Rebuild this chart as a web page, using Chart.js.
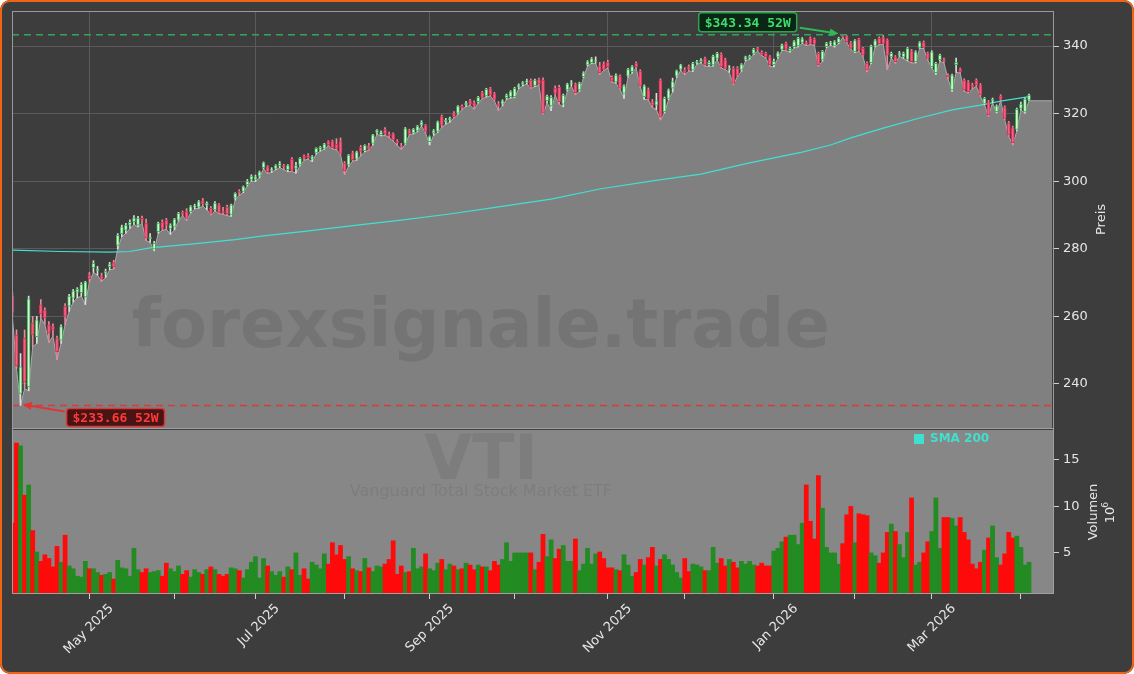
<!DOCTYPE html>
<html>
<head>
<meta charset="utf-8">
<script src="https://cdn.jsdelivr.net/npm/chart.js@4.4.1/dist/chart.umd.min.js"></script>
<style>
  html, body { margin: 0; padding: 0; background: #ffffff; }
  #wrap { position: relative; width: 1134px; height: 674px; background: #3d3d3d; border-radius: 10px; overflow: hidden; }
  #wrap canvas { position: absolute; left: 0; }
  #frame { position: absolute; left: 0; top: 0; width: 1134px; height: 674px; box-sizing: border-box; border: 2px solid #f06414; border-radius: 10px; pointer-events: none; }
</style>
</head>
<body>
<div id="wrap">
  <canvas id="priceChart" width="1134" height="428" style="top:0px"></canvas>
  <canvas id="volumeChart" width="1134" height="246" style="top:428px"></canvas>
  <div id="frame"></div>
</div>
<script>
// daily candles, index 0 = 3 Apr 2025 (trading days only)
const open = [
  266.0, 254.5, 237.2, 253.5, 239.2, 258.1, 254.0, 263.4, 261.9, 257.5,
  257.0, 253.6, 253.0, 263.0, 263.0, 265.4, 267.2, 267.0, 265.8, 272.2,
  274.4, 273.5, 272.0, 272.8, 274.7, 275.9, 281.0, 284.5, 285.5, 287.0,
  288.0, 287.0, 289.0, 287.6, 283.0, 280.0, 285.1, 287.8, 288.5, 286.0,
  286.5, 288.5, 290.8, 291.0, 291.0, 292.4, 292.3, 294.2, 292.8, 292.0,
  291.5, 293.0, 291.0, 292.3, 290.2, 295.0, 297.0, 297.0, 299.0, 300.5,
  300.5, 301.5, 304.0, 304.3, 303.2, 303.8, 304.6, 304.6, 303.4, 306.5,
  303.8, 304.8, 307.5, 307.6, 306.5, 308.4, 309.4, 309.7, 311.7, 311.9,
  310.9, 311.9, 305.3, 304.8, 308.4, 306.5, 310.0, 309.0, 310.5, 311.2,
  314.4, 313.8, 315.3, 313.9, 314.0, 311.9, 310.5, 311.2, 315.0, 314.3,
  314.9, 316.6, 316.6, 311.7, 314.2, 314.7, 319.1, 317.5, 318.1, 320.0,
  320.1, 322.2, 322.5, 323.8, 323.2, 323.5, 326.2, 325.2, 327.4, 325.9,
  322.9, 322.8, 324.7, 325.0, 325.0, 327.8, 328.6, 329.2, 329.9, 328.3,
  330.1, 329.9, 323.8, 322.3, 327.5, 327.8, 322.8, 327.0, 328.8, 328.8,
  327.0, 330.9, 334.4, 335.1, 335.5, 334.1, 334.7, 335.2, 330.7, 329.4,
  331.1, 326.0, 331.1, 332.4, 334.9, 332.6, 325.0, 327.0, 323.5, 322.5,
  329.9, 320.6, 324.5, 327.5, 331.1, 333.1, 332.9, 333.9, 332.9, 335.0,
  335.4, 336.3, 334.5, 334.4, 336.3, 337.6, 335.9, 332.9, 333.4, 333.4,
  332.9, 336.0, 336.5, 337.8, 339.3, 338.2, 337.8, 336.8, 334.5, 336.8,
  339.0, 340.8, 338.6, 339.8, 340.0, 341.1, 341.0, 342.3, 342.0, 337.8,
  335.9, 339.8, 340.6, 340.0, 341.0, 343.1, 342.8, 341.0, 338.3, 342.0,
  339.3, 334.9, 335.1, 340.0, 342.3, 342.5, 341.8, 336.8, 336.8, 337.3,
  336.8, 336.0, 338.6, 335.4, 339.6, 341.1, 337.8, 333.9, 332.1, 335.9,
  336.0, 331.4, 327.0, 334.5, 333.1, 329.9, 329.4, 328.5, 329.9, 328.5,
  323.0, 323.5, 323.8, 320.6, 325.2, 321.9, 317.3, 315.9, 315.3, 321.5,
  320.5, 324.0
];
const high = [
  267.0, 256.0, 249.0, 256.0, 266.0, 260.0, 260.0, 265.0, 262.5, 258.5,
  257.8, 254.2, 257.5, 263.8, 266.5, 268.0, 268.5, 270.0, 270.4, 273.0,
  276.5, 274.8, 272.8, 274.0, 276.0, 276.6, 284.5, 287.0, 287.5, 288.6,
  289.8, 289.6, 289.7, 288.8, 284.5, 282.2, 287.9, 288.6, 289.0, 287.4,
  289.0, 290.8, 291.2, 291.9, 292.8, 293.2, 294.3, 294.9, 293.9, 292.6,
  294.0, 293.4, 292.3, 292.9, 293.2, 296.6, 297.5, 298.6, 300.5, 301.9,
  301.8, 303.0, 305.7, 304.6, 304.0, 304.9, 305.8, 305.0, 304.9, 307.0,
  305.6, 307.0, 307.8, 308.2, 307.6, 309.9, 310.3, 311.2, 312.0, 312.2,
  312.6, 312.8, 305.8, 307.9, 308.9, 308.9, 310.6, 310.8, 311.2, 313.9,
  315.3, 314.9, 315.9, 314.5, 314.3, 312.3, 311.2, 315.9, 315.4, 315.6,
  316.5, 317.9, 316.8, 313.4, 315.3, 317.8, 319.6, 318.6, 319.0, 320.6,
  322.4, 322.6, 323.6, 324.2, 323.8, 325.1, 326.6, 327.5, 327.8, 326.3,
  323.6, 324.1, 325.8, 326.8, 327.8, 328.8, 329.5, 330.2, 330.3, 330.2,
  330.5, 330.6, 325.5, 325.3, 328.2, 328.4, 325.8, 329.0, 329.8, 329.1,
  329.3, 332.4, 335.7, 336.6, 336.8, 335.2, 335.3, 335.8, 331.2, 331.8,
  331.5, 328.5, 333.4, 334.2, 335.3, 333.0, 328.5, 327.6, 324.2, 326.0,
  330.3, 324.9, 327.3, 330.5, 332.9, 334.6, 333.6, 334.4, 335.2, 335.8,
  336.3, 336.7, 335.6, 337.3, 338.1, 338.0, 336.4, 334.2, 333.9, 333.9,
  334.8, 337.0, 337.3, 339.3, 339.6, 338.6, 338.2, 337.2, 336.1, 338.3,
  340.6, 341.2, 339.7, 341.6, 342.6, 342.5, 341.5, 342.7, 342.4, 338.2,
  338.7, 341.1, 341.4, 341.6, 342.6, 343.34, 343.1, 341.4, 341.9, 342.3,
  339.6, 335.3, 340.3, 341.9, 342.7, 343.2, 342.1, 338.2, 337.2, 338.4,
  338.2, 339.6, 339.0, 338.6, 341.3, 341.5, 338.2, 338.6, 335.2, 337.6,
  336.4, 331.8, 331.7, 336.4, 333.5, 330.3, 329.8, 329.0, 330.3, 328.9,
  324.8, 323.9, 324.6, 322.6, 325.6, 322.3, 317.7, 316.3, 321.6, 323.4,
  324.6, 325.8
];
const low = [
  259.8, 244.5, 233.66, 238.6, 238.0, 251.0, 252.0, 259.5, 257.6, 252.2,
  254.2, 247.2, 252.0, 257.5, 261.5, 264.2, 265.5, 266.0, 263.5, 270.2,
  273.0, 272.2, 270.3, 271.5, 273.8, 274.0, 280.0, 283.6, 284.6, 286.0,
  287.2, 286.5, 287.5, 282.4, 281.9, 279.4, 284.6, 285.4, 285.8, 284.3,
  285.6, 288.2, 289.8, 288.4, 290.6, 291.8, 292.0, 292.6, 291.6, 290.0,
  291.2, 290.4, 290.2, 289.8, 289.6, 294.4, 295.9, 296.6, 298.6, 300.0,
  299.9, 301.0, 303.7, 302.3, 302.6, 303.4, 304.0, 303.4, 302.8, 302.9,
  302.4, 304.5, 306.2, 306.5, 305.8, 308.0, 308.9, 309.4, 310.5, 309.6,
  309.3, 307.9, 302.0, 304.4, 305.9, 306.2, 307.5, 308.7, 309.2, 310.7,
  313.9, 313.4, 313.6, 312.9, 311.9, 310.6, 309.4, 310.9, 313.8, 314.0,
  314.6, 316.3, 314.3, 310.7, 313.6, 314.4, 315.9, 316.9, 317.5, 318.7,
  319.8, 321.2, 322.1, 322.4, 321.3, 323.1, 324.4, 324.9, 325.2, 323.8,
  320.9, 322.3, 324.2, 324.6, 324.7, 327.4, 328.2, 328.8, 327.5, 328.0,
  328.4, 319.8, 323.2, 320.9, 325.4, 322.8, 322.0, 326.7, 328.2, 325.6,
  326.6, 330.6, 334.1, 334.8, 334.9, 331.6, 332.8, 333.5, 329.3, 329.0,
  327.2, 324.5, 330.8, 332.0, 333.5, 327.9, 324.2, 324.1, 321.8, 321.2,
  318.1, 320.2, 324.1, 326.4, 330.7, 332.8, 331.5, 332.6, 332.5, 334.6,
  335.0, 334.0, 334.0, 334.0, 335.9, 333.5, 333.0, 332.2, 328.5, 330.9,
  332.5, 335.6, 336.1, 337.5, 338.5, 337.1, 336.5, 334.0, 333.8, 336.4,
  338.7, 338.6, 338.2, 339.4, 339.7, 340.8, 340.1, 340.4, 340.2, 334.0,
  335.5, 339.5, 340.2, 339.7, 340.7, 342.5, 341.0, 339.0, 338.0, 338.4,
  336.9, 332.3, 334.8, 339.7, 340.3, 340.5, 333.0, 336.4, 334.9, 336.9,
  336.3, 335.6, 335.0, 335.0, 339.3, 339.2, 335.9, 333.5, 331.6, 335.5,
  335.0, 330.3, 326.6, 332.2, 332.0, 326.6, 326.1, 327.3, 328.1, 325.1,
  322.6, 319.2, 323.2, 320.2, 323.8, 318.2, 313.3, 310.7, 314.9, 321.0,
  320.1, 323.8
];
const close = [
  261.3, 245.4, 245.1, 240.7, 265.2, 254.5, 259.0, 260.7, 259.5, 255.1,
  256.0, 249.6, 257.0, 260.0, 266.0, 267.6, 268.0, 269.5, 270.2, 271.1,
  275.7, 274.0, 271.0, 273.3, 275.5, 274.7, 284.0, 286.5, 287.0, 287.8,
  289.2, 289.1, 288.5, 283.2, 283.4, 281.6, 287.6, 286.0, 287.0, 287.0,
  288.8, 290.5, 290.3, 289.0, 292.5, 292.6, 294.0, 293.3, 293.5, 290.5,
  293.5, 290.8, 290.6, 290.3, 293.0, 296.4, 296.5, 298.4, 300.0, 301.5,
  301.3, 302.8, 305.5, 302.8, 303.5, 304.6, 305.2, 304.2, 304.6, 303.2,
  304.6, 306.8, 306.8, 306.9, 307.3, 309.7, 310.0, 311.0, 310.8, 309.9,
  309.7, 308.2, 303.1, 307.7, 306.4, 308.7, 308.8, 310.6, 309.5, 313.7,
  315.1, 314.6, 314.0, 313.4, 312.2, 311.3, 310.2, 315.6, 314.1, 315.4,
  316.3, 317.5, 314.7, 313.2, 315.0, 317.6, 316.6, 318.1, 318.6, 319.1,
  322.2, 321.6, 323.2, 322.8, 322.2, 324.8, 324.8, 327.2, 325.6, 324.2,
  322.3, 323.8, 325.5, 326.5, 327.5, 328.5, 329.2, 329.7, 327.8, 329.9,
  328.8, 320.1, 325.2, 324.8, 326.0, 323.5, 325.5, 328.8, 329.2, 326.2,
  329.0, 332.1, 335.4, 336.3, 335.7, 332.1, 333.1, 333.9, 329.7, 331.4,
  327.5, 328.2, 333.1, 333.9, 333.9, 328.2, 328.2, 324.5, 322.5, 323.8,
  319.0, 324.5, 327.0, 329.5, 332.7, 334.4, 332.2, 333.1, 334.9, 335.4,
  335.9, 334.4, 335.2, 337.0, 337.8, 333.9, 333.4, 333.4, 328.9, 331.4,
  334.5, 336.8, 337.0, 339.0, 338.9, 337.5, 336.8, 334.4, 335.5, 338.0,
  340.3, 339.0, 339.3, 341.3, 342.3, 342.1, 340.6, 340.8, 340.6, 334.4,
  338.4, 340.8, 341.0, 341.3, 342.3, 342.8, 341.3, 339.3, 341.6, 338.8,
  337.3, 332.9, 340.0, 341.6, 340.6, 340.8, 337.3, 337.8, 335.4, 338.0,
  337.8, 339.3, 335.4, 338.3, 341.0, 339.6, 336.3, 338.3, 334.9, 337.3,
  335.5, 330.9, 331.4, 335.2, 332.4, 327.0, 326.5, 327.8, 328.5, 325.5,
  324.5, 319.6, 324.2, 322.3, 324.2, 318.6, 313.7, 311.4, 321.3, 322.8,
  324.3, 325.5
];
// volume in millions
const volume = [
  8.2, 16.8, 16.5, 11.2, 12.3, 7.4, 5.1, 4.1, 4.8, 4.4,
  3.5, 5.7, 4.0, 6.9, 3.6, 3.3, 2.5, 2.4, 4.1, 3.3,
  3.3, 2.9, 2.6, 2.7, 2.9, 2.2, 4.2, 3.4, 3.3, 2.5,
  5.5, 3.2, 2.9, 3.3, 2.9, 3.0, 3.1, 2.5, 3.9, 3.3,
  3.0, 3.6, 2.7, 3.1, 2.4, 3.2, 2.9, 2.7, 3.2, 3.5,
  3.2, 2.7, 2.5, 2.7, 3.4, 3.3, 3.1, 2.3, 3.2, 4.0,
  4.6, 2.3, 4.4, 3.6, 3.0, 2.6, 3.0, 2.4, 3.5, 3.2,
  5.0, 2.6, 3.3, 2.2, 4.0, 3.7, 3.3, 4.9, 3.8, 6.1,
  4.8, 5.8, 4.3, 4.6, 3.3, 3.1, 3.0, 4.4, 3.4, 3.0,
  3.6, 3.5, 3.8, 4.3, 6.3, 2.7, 3.6, 2.9, 3.0, 5.5,
  3.3, 3.5, 4.9, 3.3, 3.1, 3.9, 4.3, 3.2, 3.8, 3.6,
  3.2, 3.3, 3.9, 3.7, 3.2, 3.7, 3.5, 3.5, 3.1, 4.1,
  3.7, 4.3, 6.1, 4.1, 5.0, 5.0, 5.0, 5.0, 5.0, 3.2,
  4.0, 7.0, 4.6, 6.4, 4.4, 5.4, 5.8, 4.1, 4.1, 6.5,
  3.1, 3.8, 5.5, 3.8, 4.9, 5.1, 4.4, 3.4, 3.4, 3.2,
  3.1, 4.8, 3.7, 2.5, 2.9, 4.3, 3.7, 4.5, 5.6, 3.6,
  4.3, 4.8, 4.3, 3.7, 2.9, 2.3, 4.4, 3.0, 3.8, 3.7,
  3.5, 3.1, 3.1, 5.6, 3.9, 4.4, 3.6, 4.3, 4.0, 3.4,
  4.1, 3.8, 4.1, 3.7, 3.6, 3.9, 3.6, 3.6, 5.2, 5.5,
  6.2, 6.7, 6.9, 6.9, 5.9, 8.2, 12.3, 8.4, 6.5, 13.3,
  9.8, 5.6, 5.0, 5.0, 3.8, 6.0, 9.1, 10.0, 6.1, 9.2,
  9.1, 9.0, 5.0, 4.7, 3.9, 5.0, 7.2, 8.1, 7.3, 5.9,
  4.5, 7.2, 10.9, 3.7, 4.0, 5.0, 6.2, 7.3, 10.9, 5.5,
  8.8, 8.8, 8.7, 7.9, 8.8, 7.2, 6.4, 3.8, 3.3, 4.0,
  5.3, 6.6, 7.9, 4.5, 3.7, 4.9, 7.2, 6.6, 6.8, 5.6,
  3.7, 4.0
];
// 200 day moving average, read at a few points
const smaIdx = [0, 12, 24, 29, 34, 46, 55, 62, 71, 83, 96, 108, 120, 133, 145, 158, 170, 182, 195, 202, 207, 215, 224, 232, 239, 244, 251];
const smaVal = [279.6, 279.2, 279.0, 279.2, 280.3, 281.6, 282.7, 283.8, 285.0, 286.7, 288.5, 290.3, 292.4, 294.7, 297.7, 300.1, 302.1, 305.4, 308.6, 310.7, 312.8, 315.7, 318.7, 321.1, 322.5, 323.7, 325.0];
// first trading day of each month
const monthTickIdx = [19, 40, 60, 82, 103, 124, 147, 166, 188, 208, 227, 249];
const monthTickLabels = ["May 2025", "", "Jul 2025", "", "Sep 2025", "", "Nov 2025", "", "Jan 2026", "", "Mar 2026", ""];
const high52 = 343.34;
const low52 = 233.66;

const X_MIN = -0.11, X_MAX = 257.17, FILL_END = 256.7;
const TEXT = "#e6e6e6";
const FONT = "'DejaVu Sans', sans-serif";
Chart.defaults.font.family = FONT;
Chart.defaults.font.size = 13;
Chart.defaults.color = TEXT;

const n = close.length;
const up = close.map((c, i) => c >= open[i]);
const hiIdx = high.indexOf(Math.max(...high));
const loIdx = low.indexOf(Math.min(...low));

const lowLine = low.map((v, i) => ({ x: i, y: v }));
lowLine.push({ x: FILL_END, y: low[n - 1] });

function arrow(ctx, x1, y1, x2, y2, color) {
  const a = Math.atan2(y2 - y1, x2 - x1);
  ctx.save();
  ctx.strokeStyle = color;
  ctx.fillStyle = color;
  ctx.lineWidth = 2;
  ctx.beginPath();
  ctx.moveTo(x1, y1);
  ctx.lineTo(x2 - 6 * Math.cos(a), y2 - 6 * Math.sin(a));
  ctx.stroke();
  ctx.beginPath();
  ctx.moveTo(x2, y2);
  ctx.lineTo(x2 - 9 * Math.cos(a) + 4 * Math.sin(a), y2 - 9 * Math.sin(a) - 4 * Math.cos(a));
  ctx.lineTo(x2 - 9 * Math.cos(a) - 4 * Math.sin(a), y2 - 9 * Math.sin(a) + 4 * Math.cos(a));
  ctx.closePath();
  ctx.fill();
  ctx.restore();
}

function tag(ctx, text, x, y, w, h, bg, edge, fg) {
  ctx.save();
  ctx.fillStyle = bg;
  ctx.strokeStyle = edge;
  ctx.lineWidth = 1.5;
  ctx.beginPath();
  ctx.roundRect(x, y, w, h, 3);
  ctx.fill();
  ctx.stroke();
  ctx.fillStyle = fg;
  ctx.font = "bold 13px 'DejaVu Sans Mono', monospace";
  ctx.textAlign = "center";
  ctx.textBaseline = "middle";
  ctx.fillText(text, x + w / 2, y + h / 2 + 1);
  ctx.restore();
}

// y axes: no extra room for half labels at the ends
function fixY(s) {
  s.width = 80;
  s.paddingTop = 0;
  s.paddingBottom = 0;
}

const pricePlugin = {
  id: "priceDeco",
  afterDatasetDraw(chart, args) {
    if (args.index !== 0) return;
    const { ctx, chartArea: a } = chart;
    ctx.save();
    ctx.font = "bold 67px " + FONT;
    ctx.fillStyle = "rgba(40,40,40,0.13)";
    ctx.textAlign = "center";
    ctx.textBaseline = "middle";
    ctx.fillText("forexsignale.trade", a.left + a.width * 0.45, a.top + a.height * 0.763);
    ctx.restore();
  },
  afterDatasetsDraw(chart) {
    const { ctx, chartArea: a, scales } = chart;
    const yHi = scales.y.getPixelForValue(high52);
    const yLo = scales.y.getPixelForValue(low52);
    ctx.save();
    ctx.lineWidth = 1.5;
    ctx.setLineDash([7, 5]);
    ctx.strokeStyle = "#33a55a";
    ctx.beginPath(); ctx.moveTo(a.left, yHi); ctx.lineTo(a.right, yHi); ctx.stroke();
    ctx.strokeStyle = "#d23c3c";
    ctx.beginPath(); ctx.moveTo(a.left, yLo); ctx.lineTo(a.right, yLo); ctx.stroke();
    ctx.restore();
  },
  afterDraw(chart) {
    const { ctx, chartArea: a, scales } = chart;
    ctx.save();
    ctx.strokeStyle = "#9a9a9a";
    ctx.lineWidth = 1;
    ctx.strokeRect(a.left + 0.5, a.top + 0.5, a.width - 1, a.height);
    ctx.restore();

    const hx = scales.x.getPixelForValue(hiIdx), hy = scales.y.getPixelForValue(high52);
    tag(ctx, "$" + high52.toFixed(2) + " 52W", hx - 144, hy - 22, 98, 19, "#0c2616", "#2fa352", "#3ddc6e");
    arrow(ctx, hx - 43, hy - 7, hx - 4, hy - 1, "#2fb85a");

    const lx = scales.x.getPixelForValue(loIdx), ly = scales.y.getPixelForValue(low52);
    tag(ctx, "$" + low52.toFixed(2) + " 52W", lx + 46, ly + 3, 98, 18, "#4a1414", "#d83a3a", "#ff3a3a");
    arrow(ctx, lx + 44, ly + 6, lx + 2, ly - 1, "#e03535");

    ctx.save();
    ctx.fillStyle = TEXT;
    ctx.font = "13px " + FONT;
    ctx.textAlign = "center";
    ctx.textBaseline = "middle";
    ctx.translate(1102, (a.top + a.bottom) / 2);
    ctx.rotate(-Math.PI / 2);
    ctx.fillText("Preis", 0, 0);
    ctx.restore();
  }
};

const volumePlugin = {
  id: "volumeDeco",
  beforeDatasetsDraw(chart) {
    const { ctx, chartArea: a } = chart;
    ctx.save();
    ctx.fillStyle = "#878787";
    ctx.fillRect(a.left, a.top, a.width, a.height);
    ctx.fillStyle = "rgba(60,60,60,0.12)";
    ctx.textAlign = "center";
    ctx.textBaseline = "middle";
    ctx.font = "bold 62px " + FONT;
    ctx.fillText("VTI", a.left + a.width * 0.45, a.top + a.height * 0.2);
    ctx.font = "16px " + FONT;
    ctx.fillText("Vanguard Total Stock Market ETF", a.left + a.width * 0.45, a.top + a.height * 0.378);
    ctx.restore();
  },
  afterDraw(chart) {
    const { ctx, chartArea: a } = chart;
    ctx.save();
    ctx.strokeStyle = "#a0a0a0";
    ctx.lineWidth = 1;
    ctx.strokeRect(a.left + 0.5, a.top - 1.5, a.width - 1, a.height + 1);
    ctx.fillStyle = "#40e0d0";
    ctx.fillRect(a.right - 140, a.top + 4, 10, 10);
    ctx.font = "bold 12px " + FONT;
    ctx.textBaseline = "middle";
    ctx.fillText("SMA 200", a.right - 124, a.top + 9);

    ctx.fillStyle = TEXT;
    ctx.font = "13px " + FONT;
    ctx.textAlign = "center";
    ctx.translate(1094, (a.top + a.bottom) / 2);
    ctx.rotate(-Math.PI / 2);
    ctx.fillText("Volumen", 0, 0);
    ctx.fillText("10", -3, 17);
    ctx.font = "9px " + FONT;
    ctx.fillText("6", 7, 12);
    ctx.restore();
  }
};

const xCommon = { type: "linear", min: X_MIN, max: X_MAX, offset: false, border: { display: false } };

new Chart(document.getElementById("priceChart"), {
  type: "bar",
  data: {
    datasets: [
      {
        type: "line",
        data: lowLine,
        fill: "start",
        backgroundColor: "#808080",
        borderColor: "#ababab",
        borderWidth: 1,
        pointRadius: 0,
        tension: 0,
        order: 4,
      },
      {
        type: "line",
        data: smaIdx.map((v, i) => ({ x: v, y: smaVal[i] })),
        borderColor: "#40e0d0",
        borderWidth: 1.2,
        pointRadius: 0,
        fill: false,
        order: 3,
      },
      {
        data: close.map((c, i) => ({ x: i, y: [low[i], high[i]] })),
        backgroundColor: up.map((u) => (u ? "#dcdcdc" : "#e58a9c")),
        barThickness: 1,
        grouped: false,
        order: 2,
      },
      {
        data: close.map((c, i) => ({ x: i, y: [open[i], c] })),
        backgroundColor: up.map((u) => (u ? "#d9f4d9" : "#f0627f")),
        borderColor: up.map((u) => (u ? "#35b84f" : "#d8325a")),
        borderWidth: 1,
        borderSkipped: false,
        barThickness: 3,
        minBarLength: 1,
        grouped: false,
        order: 1,
      },
    ],
  },
  options: {
    responsive: false,
    animation: false,
    layout: { padding: { left: 12, top: 11, right: 0, bottom: 0 } },
    plugins: { legend: { display: false }, tooltip: { enabled: false } },
    scales: {
      x: {
        ...xCommon,
        afterBuildTicks: (s) => {
          s.ticks = monthTickIdx.filter((v, i) => monthTickLabels[i]).map((v) => ({ value: v }));
        },
        ticks: { display: false },
        grid: { color: "#5a5a5a", drawTicks: false, offset: false },
        afterFit: (s) => { s.height = 0; },
      },
      y: {
        position: "right",
        min: 226.98,
        max: 350.36,
        border: { display: false },
        ticks: { stepSize: 20, includeBounds: false, padding: 4 },
        grid: { color: "#5a5a5a", tickColor: "#d0d0d0", tickLength: 5 },
        afterFit: fixY,
      },
    },
  },
  plugins: [pricePlugin],
});

new Chart(document.getElementById("volumeChart"), {
  type: "bar",
  data: {
    datasets: [
      {
        data: volume.map((v, i) => ({ x: i, y: v })),
        backgroundColor: up.map((u) => (u ? "#228b22" : "#ff0a0a")),
        barThickness: 4.1,
      },
    ],
  },
  options: {
    responsive: false,
    animation: false,
    layout: { padding: { left: 12, top: 2, right: 0, bottom: 0 } },
    plugins: { legend: { display: false }, tooltip: { enabled: false } },
    scales: {
      x: {
        ...xCommon,
        afterBuildTicks: (s) => {
          s.ticks = monthTickIdx.map((v) => ({ value: v }));
        },
        ticks: {
          autoSkip: false,
          minRotation: 45,
          maxRotation: 45,
          labelOffset: 22,
          padding: 2,
          callback: (v, i) => monthTickLabels[i],
        },
        grid: { drawOnChartArea: false, tickColor: "#d0d0d0", tickLength: 5, offset: false },
        afterFit: (s) => { s.height = 80; s.paddingLeft = 0; s.paddingRight = 0; },
      },
      y: {
        position: "right",
        min: 0.59,
        max: 18.2,
        border: { display: false },
        ticks: { stepSize: 5, includeBounds: false, padding: 4 },
        grid: { drawOnChartArea: false, tickColor: "#d0d0d0", tickLength: 5 },
        afterFit: fixY,
      },
    },
  },
  plugins: [volumePlugin],
});
</script>
</body>
</html>
